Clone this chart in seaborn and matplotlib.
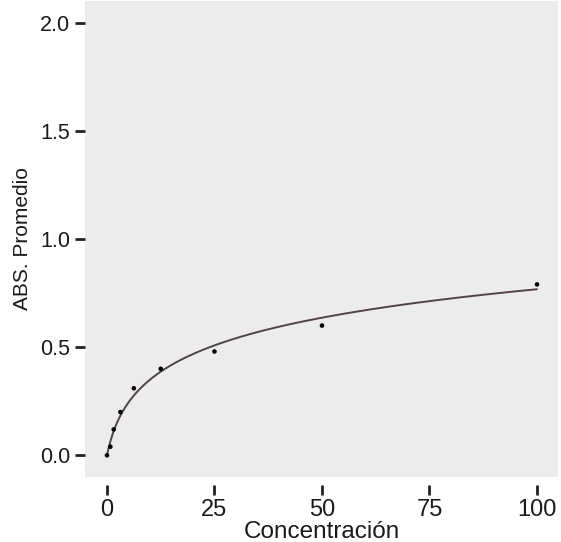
import numpy as np
import pandas as pd
import matplotlib
matplotlib.use("Agg")
import matplotlib.pyplot as plt
import seaborn as sns

# Data
concentracion = [0, 0.78, 1.5625, 3.125, 6.25, 12.5, 25, 50, 100]
abs_promedio = [0.0, 0.04, 0.12, 0.20, 0.31, 0.40, 0.48, 0.60, 0.79]

# Fitted model parameters (y = a * ln(1 + x / k))
fit_a = 0.1953
fit_k = 2.0

x_ticks = [0, 25, 50, 75, 100]
y_ticks = [0.0, 0.5, 1.0, 1.5, 2.0]

df = pd.DataFrame({"Concentración": concentracion, "ABS. Promedio": abs_promedio})
xfit = np.linspace(0, 100, 400)
fit_df = pd.DataFrame({"Concentración": xfit,
                       "ABS. Promedio": fit_a * np.log1p(xfit / fit_k)})

sns.set_theme(style="white")
plt.rcParams["font.family"] = ["Liberation Sans", "DejaVu Sans"]

fig = plt.figure(figsize=(5.61, 5.42), dpi=100)
ax = fig.add_axes([0.1524, 0.12, 0.8431, 0.878])
ax.set_facecolor("#ececec")

sns.lineplot(data=fit_df, x="Concentración", y="ABS. Promedio", ax=ax,
             color="#4f4545", linewidth=1.4)
sns.scatterplot(data=df, x="Concentración", y="ABS. Promedio", ax=ax,
                color="black", s=11, edgecolor="none", zorder=5)

ax.set_xlim(-5, 105)
ax.set_ylim(-0.1, 2.1)
ax.set_xticks(x_ticks)
ax.set_xticklabels([str(t) for t in x_ticks])
ax.set_yticks(y_ticks)
ax.set_yticklabels([f"{t:.1f}" for t in y_ticks])
for s in ax.spines.values():
    s.set_visible(False)
ax.spines["bottom"].set_position(("outward", 6))
ax.tick_params(axis="both", which="major", length=7, width=2, color="#222222",
               labelcolor="#1a1a1a", direction="out", bottom=True, left=True)
ax.tick_params(axis="x", labelsize=17, pad=3)
ax.tick_params(axis="y", labelsize=15.5, pad=4)
ax.set_xlabel("Concentración", fontsize=17.5, color="#1a1a1a", labelpad=0)
ax.set_ylabel("ABS. Promedio", fontsize=15, color="#1a1a1a", labelpad=6)
ax.grid(False)

fig.savefig("out.png", dpi=100, facecolor="white")
